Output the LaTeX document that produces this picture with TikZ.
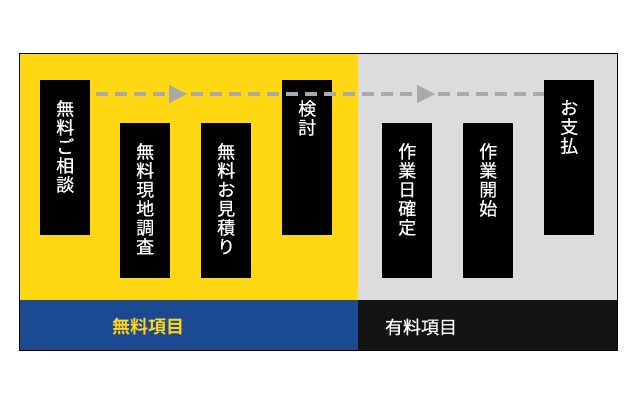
\documentclass[tikz,border=0pt]{standalone}
\usepackage{fontspec}
\newfontfamily\jp[FakeBold=0.6]{Noto Sans CJK JP}
\newfontfamily\jpb{Noto Sans CJK JP Bold}
\definecolor{cyellow}{HTML}{FFD712}
\definecolor{cgray}{HTML}{DCDCDC}
\definecolor{cblue}{HTML}{1B4A93}
\definecolor{cdark}{HTML}{141414}
\definecolor{cdash}{HTML}{A9A9A9}
\tikzset{
  stepbox/.style={fill=black, draw=none, inner sep=0pt, minimum width=50pt, minimum height=155pt, anchor=north west},
  vtext/.style={text=white, inner sep=0pt, align=center, anchor=north, font=\jp\fontsize{18}{19}\selectfont},
  dashline/.style={draw=cdash, line width=4pt, dash pattern=on 12pt off 7pt},
  arrowtri/.style={fill=cdash},
}
\begin{document}
\begin{tikzpicture}[x=1pt,y=-1pt]
\useasboundingbox (0,0) rectangle (640,404);
\fill[cyellow] (19,53) rectangle (358,300);
\fill[cgray] (358,53) rectangle (617,300);
\fill[cblue] (19,300) rectangle (358,350);
\fill[cdark] (358,300) rectangle (617,350);
\draw[black, line width=0.8pt] (19,53) rectangle (617,350);

\node[stepbox] (b1) at (40,80) {};
\node[stepbox] (b2) at (120,123) {};
\node[stepbox] (b3) at (201,123) {};
\node[stepbox] (b4) at (282,80) {};
\node[stepbox] (b5) at (382,123) {};
\node[stepbox] (b6) at (463,123) {};
\node[stepbox] (b7) at (544,80) {};

\node[vtext] (t1) at ([yshift=-20pt]b1.north) {無\\料\\ご\\相\\談};
\node[vtext] (t2) at ([yshift=-20pt]b2.north) {無\\料\\現\\地\\調\\査};
\node[vtext] (t3) at ([yshift=-20pt]b3.north) {無\\料\\お\\見\\積\\り};
\node[vtext] (t4) at ([yshift=-20pt]b4.north) {検\\討};
\node[vtext] (t5) at ([yshift=-20pt]b5.north) {作\\業\\日\\確\\定};
\node[vtext] (t6) at ([yshift=-20pt]b6.north) {作\\業\\開\\始};
\node[vtext] (t7) at ([yshift=-20pt]b7.north) {お\\支\\払};

\coordinate (ls) at ([shift={(6,14)}]b1.north east);
\coordinate (le) at ([shift={(0,14)}]b7.north west);
\draw[dashline] (ls) -- (le);
\fill[arrowtri] (169,85) -- (187,94) -- (169,103) -- cycle;
\fill[arrowtri] (417,85) -- (435,94) -- (417,103) -- cycle;

\node[text=cyellow, inner sep=0pt, font=\jpb\fontsize{18}{20}\selectfont] (free) at (148,327) {無料項目};
\node[text=white, inner sep=0pt, font=\jp\fontsize{18}{20}\selectfont] (paid) at (421,327) {有料項目};
\end{tikzpicture}
\end{document}
